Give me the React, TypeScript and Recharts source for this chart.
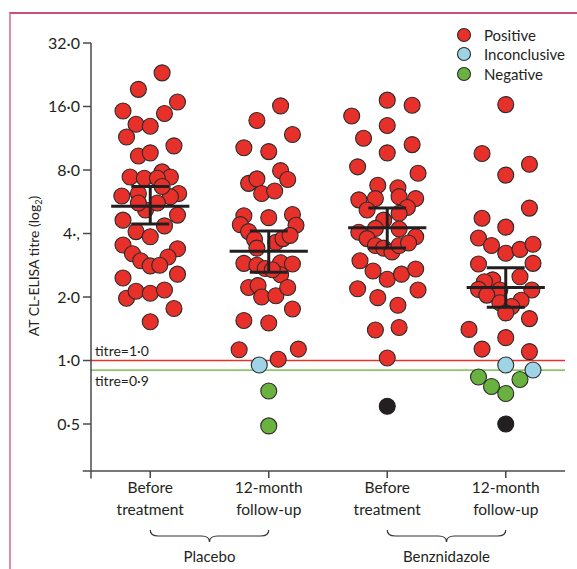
import { ReferenceLine, Scatter, ScatterChart, XAxis, YAxis } from "recharts";

const FONT = "Lato, 'Open Sans', sans-serif";
const INK = "#231f20";

const groupCenters = [1, 2, 3, 4];
const groupTickLines = [
  ["Before", "treatment"],
  ["12-month", "follow-up"],
  ["Before", "treatment"],
  ["12-month", "follow-up"],
];
const armLabels = ["Placebo", "Benznidazole"];

// y is log2 of titre
const yTicks = [-1, 0, 1, 2, 3, 4, 5];
const yTickLabels = ["0·5", "1·0", "2·0", "4·,", "8·0", "16·0", "32·0"];

// [jitter from group centre, log2 titre]
const positiveByGroup: [number, number][][] = [
  [
    [0.1, 4.53], [-0.1, 4.27], [0.23, 4.07], [-0.23, 3.93], [0.12, 3.89],
    [-0.12, 3.72], [0, 3.69], [-0.2, 3.52], [0.2, 3.38], [-0.1, 3.22],
    [0, 3.27], [-0.17, 2.89], [-0.05, 2.87], [0.1, 2.97], [0.17, 2.89],
    [0.06, 2.87], [-0.24, 2.59], [-0.1, 2.63], [0.24, 2.63], [0.17, 2.58],
    [0.1, 2.74], [-0.04, 2.37], [0.06, 2.48], [-0.1, 2.48], [-0.23, 2.21],
    [0.23, 2.29], [0.12, 2.12], [-0.12, 2.03], [0, 1.95], [-0.23, 1.82],
    [-0.15, 1.68], [0.23, 1.76], [0.15, 1.63], [-0.08, 1.57], [0, 1.49],
    [0.08, 1.5], [-0.23, 1.3], [0.23, 1.36], [-0.2, 0.98], [-0.12, 1.09],
    [0, 1.06], [0.12, 1.11], [0.2, 0.82], [0, 0.61],
  ],
  [
    [0.1, 4.01], [-0.1, 3.78], [0.2, 3.56], [-0.21, 3.35], [0, 3.29],
    [0.1, 2.99], [-0.17, 2.79], [-0.1, 2.86], [0.16, 2.85], [-0.06, 2.63],
    [0.05, 2.67], [-0.21, 2.28], [0, 2.25], [0.2, 2.3], [-0.24, 2.14],
    [-0.17, 2.03], [0.23, 2.13], [-0.12, 1.91], [0.06, 1.86], [0.12, 1.92],
    [0.18, 1.97], [-0.1, 1.77], [-0.21, 1.53], [-0.1, 1.5], [-0.03, 1.45],
    [0.1, 1.54], [0.2, 1.52], [0.1, 1.35], [0.03, 1.43], [-0.17, 1.15],
    [-0.09, 1.18], [-0.06, 1.0], [0.06, 1.02], [0.16, 1.15], [0.2, 0.81],
    [-0.21, 0.63], [0, 0.59], [-0.25, 0.17], [0.08, 0.02], [0.25, 0.18],
  ],
  [
    [0, 4.1], [0.21, 4.02], [-0.3, 3.85], [0, 3.7], [-0.2, 3.5],
    [0.21, 3.4], [0, 3.27], [-0.25, 3.05], [0.26, 2.95], [-0.08, 2.76],
    [0.09, 2.72], [-0.24, 2.53], [-0.1, 2.55], [0.1, 2.58], [0.24, 2.55],
    [-0.17, 2.37], [0.17, 2.41], [-0.03, 2.21], [0.1, 2.32], [-0.24, 2.02],
    [-0.1, 2.08], [0.1, 2.07], [0.24, 1.95], [-0.17, 1.92], [-0.1, 1.81],
    [-0.03, 1.77], [0.04, 1.71], [0.1, 1.81], [0.18, 1.85], [-0.23, 1.57],
    [-0.12, 1.41], [0, 1.28], [0.12, 1.36], [0.24, 1.44], [-0.25, 1.13],
    [-0.08, 0.99], [0.09, 0.87], [0.26, 1.11], [-0.1, 0.48], [0.1, 0.52],
    [0, 0.04],
  ],
  [
    [0, 4.03], [-0.2, 3.26], [0.2, 3.09], [0, 2.92], [0.2, 2.4],
    [-0.2, 2.24], [0, 2.1], [-0.23, 1.93], [-0.12, 1.81], [0, 1.69],
    [0.12, 1.75], [0.23, 1.83], [-0.23, 1.52], [0.23, 1.53], [-0.11, 1.27],
    [0.12, 1.32], [-0.18, 1.24], [-0.05, 1.11], [-0.23, 1.12], [0.22, 1.11],
    [-0.16, 1.03], [0.13, 0.95], [-0.05, 0.91], [0.05, 0.85], [0, 0.75],
    [0.2, 0.66], [-0.31, 0.49], [0, 0.36], [-0.2, 0.18], [0.2, 0.14],
  ],
];
const inconclusiveByGroup: [number, number][][] = [
  [],
  [[-0.08, -0.07]],
  [],
  [[0, -0.07], [0.23, -0.15]],
];
const negativeByGroup: [number, number][][] = [
  [],
  [[0, -0.48], [0, -1.03]],
  [],
  [[-0.23, -0.26], [-0.12, -0.41], [0, -0.52], [0.12, -0.3]],
];
const otherByGroup: [number, number][][] = [[], [], [[0, -0.72]], [[0, -1.0]]];

const groupMeans = [2.43, 1.72, 2.09, 1.15];
const semUpper = [2.74, 2.04, 2.4, 1.46];
const semLower = [2.15, 1.39, 1.77, 0.84];

const cutoffPositive = 0; // titre 1.0
const cutoffNegative = Math.log2(0.9); // titre 0.9

const legendItems = [
  { name: "Positive", color: "#e8302a" },
  { name: "Inconclusive", color: "#9fd4e6" },
  { name: "Negative", color: "#6ab23f" },
];

const X_DOMAIN: [number, number] = [0.5, 4.5];
const Y_DOMAIN: [number, number] = [-1.74, 5];

function toPoints(groups: [number, number][][]) {
  return groups.flatMap((g, i) =>
    g.map(([dx, y]) => ({ x: groupCenters[i] + dx, y }))
  );
}

const dot = (fill: string, stroke = "#2b2b2b") => (p: any) =>
  (
    <circle
      cx={p.cx}
      cy={p.cy}
      r={8}
      fill={fill}
      stroke={stroke}
      strokeWidth={1.1}
    />
  );

function XTick(props: any) {
  const { x, y, payload, index, width } = props;
  const lines = groupTickLines[index] ?? [];
  const unit = width / (X_DOMAIN[1] - X_DOMAIN[0]);
  const showBrace = index % 2 === 0;
  const x0 = x;
  const x1 = x + unit;
  const m = (x0 + x1) / 2;
  const t = y + 52;
  return (
    <g>
      {lines.map((l, i) => (
        <text
          key={i}
          x={x}
          y={y + 15 + i * 22}
          textAnchor="middle"
          fontSize={15.5}
          fontFamily={FONT}
          fill={INK}
        >
          {l}
        </text>
      ))}
      {showBrace && (
        <g>
          <path
            d={`M ${x0} ${t} Q ${x0} ${t + 6} ${x0 + 8} ${t + 6} L ${m - 8} ${t + 6} Q ${m} ${t + 6} ${m} ${t + 12} Q ${m} ${t + 6} ${m + 8} ${t + 6} L ${x1 - 8} ${t + 6} Q ${x1} ${t + 6} ${x1} ${t}`}
            fill="none"
            stroke="#333"
            strokeWidth={1.2}
          />
          <text
            x={m}
            y={y + 84}
            textAnchor="middle"
            fontSize={15}
            fontFamily={FONT}
            fill={INK}
          >
            {armLabels[index / 2]}
          </text>
        </g>
      )}
      <title>{String(payload.value)}</title>
    </g>
  );
}

function YLabel() {
  return (
    <text
      x={39}
      y={266}
      transform="rotate(-90 39 266)"
      textAnchor="middle"
      fontSize={14}
      fontFamily={FONT}
      fill={INK}
    >
      AT CL-ELISA titre (log
      <tspan fontSize={9} dy={3}>
        2
      </tspan>
      <tspan dy={-3}>)</tspan>
    </text>
  );
}

const cutoffLabel = (text: string, dy: number) => (props: any) =>
  (
    <text
      x={props.viewBox.x + 4}
      y={props.viewBox.y + dy}
      fontSize={14}
      fontFamily={FONT}
      fill={INK}
    >
      {text}
    </text>
  );

export default function App() {
  const positives = toPoints(positiveByGroup);
  const inconclusives = toPoints(inconclusiveByGroup);
  const negatives = toPoints(negativeByGroup);
  const others = toPoints(otherByGroup);
  const axisColor = "#4a4a4a";

  return (
    <div
      style={{
        position: "absolute",
        left: 0,
        top: 0,
        width: 577,
        height: 569,
        background: "#fff",
        fontFamily: FONT,
      }}
    >
      {/* frame */}
      <div
        style={{
          position: "absolute",
          left: 9,
          top: 12,
          width: 568,
          height: 557,
          borderLeft: "2px solid #e28aab",
          borderTop: "2px solid #c9507a",
        }}
      />
      <ScatterChart
        width={577}
        height={569}
        margin={{ top: 43, right: 12, bottom: 0, left: 31 }}
        style={{ position: "absolute", left: 0, top: 0 }}
      >
        <XAxis
          type="number"
          dataKey="x"
          domain={X_DOMAIN}
          ticks={groupCenters}
          interval={0}
          height={98}
          allowDataOverflow
          stroke={axisColor}
          strokeWidth={1.5}
          tickSize={7}
          tickMargin={0}
          tick={<XTick />}
        />
        <YAxis
          type="number"
          dataKey="y"
          domain={Y_DOMAIN}
          ticks={yTicks}
          interval={0}
          width={60}
          allowDataOverflow
          stroke={axisColor}
          strokeWidth={1.5}
          tickSize={8}
          tickMargin={3}
          tickFormatter={(v: number) => yTickLabels[yTicks.indexOf(v)] ?? ""}
          tick={{ fontSize: 16, fill: INK, fontFamily: FONT }}
          label={<YLabel />}
        />
        {/* axis overhang at origin */}
        <ReferenceLine
          segment={[
            { x: 0.43, y: Y_DOMAIN[0] },
            { x: 0.5, y: Y_DOMAIN[0] },
          ]}
          stroke={axisColor}
          strokeWidth={1.5}
          ifOverflow="visible"
        />
        <ReferenceLine
          segment={[
            { x: 0.5, y: Y_DOMAIN[0] },
            { x: 0.5, y: Y_DOMAIN[0] - 0.12 },
          ]}
          stroke={axisColor}
          strokeWidth={1.5}
          ifOverflow="visible"
        />
        <ReferenceLine
          y={cutoffPositive}
          stroke="#e8302a"
          strokeWidth={1.3}
          label={cutoffLabel("titre=1·0", -5)}
        />
        <ReferenceLine
          y={cutoffNegative}
          stroke="#5fb031"
          strokeWidth={1.3}
          label={cutoffLabel("titre=0·9", 16)}
        />
        <Scatter
          data={positives}
          isAnimationActive={false}
          shape={dot(legendItems[0].color)}
        />
        <Scatter
          data={inconclusives}
          isAnimationActive={false}
          shape={dot(legendItems[1].color)}
        />
        <Scatter
          data={negatives}
          isAnimationActive={false}
          shape={dot(legendItems[2].color)}
        />
        <Scatter
          data={others}
          isAnimationActive={false}
          shape={dot("#231f20", "#231f20")}
        />
        {groupCenters.map((c, i) => (
          <ReferenceLine
            key={`m${i}`}
            segment={[
              { x: c - 0.33, y: groupMeans[i] },
              { x: c + 0.33, y: groupMeans[i] },
            ]}
            stroke="#231f20"
            strokeWidth={3}
            zIndex={700}
          />
        ))}
        {groupCenters.map((c, i) => (
          <ReferenceLine
            key={`v${i}`}
            segment={[
              { x: c, y: semLower[i] },
              { x: c, y: semUpper[i] },
            ]}
            stroke="#231f20"
            strokeWidth={3}
            zIndex={700}
          />
        ))}
        {groupCenters.map((c, i) => (
          <ReferenceLine
            key={`u${i}`}
            segment={[
              { x: c - 0.16, y: semUpper[i] },
              { x: c + 0.16, y: semUpper[i] },
            ]}
            stroke="#231f20"
            strokeWidth={3}
            zIndex={700}
          />
        ))}
        {groupCenters.map((c, i) => (
          <ReferenceLine
            key={`l${i}`}
            segment={[
              { x: c - 0.16, y: semLower[i] },
              { x: c + 0.16, y: semLower[i] },
            ]}
            stroke="#231f20"
            strokeWidth={3}
            zIndex={700}
          />
        ))}
      </ScatterChart>
      {/* legend */}
      <div style={{ position: "absolute", left: 456, top: 25 }}>
        {legendItems.map((item) => (
          <div
            key={item.name}
            style={{
              display: "flex",
              alignItems: "center",
              height: 19.5,
              fontSize: 15,
              color: INK,
            }}
          >
            <svg width={16} height={16} style={{ marginRight: 12 }}>
              <circle
                cx={8}
                cy={8}
                r={6.5}
                fill={item.color}
                stroke="#2b2b2b"
                strokeWidth={1.1}
              />
            </svg>
            {item.name}
          </div>
        ))}
      </div>
    </div>
  );
}
